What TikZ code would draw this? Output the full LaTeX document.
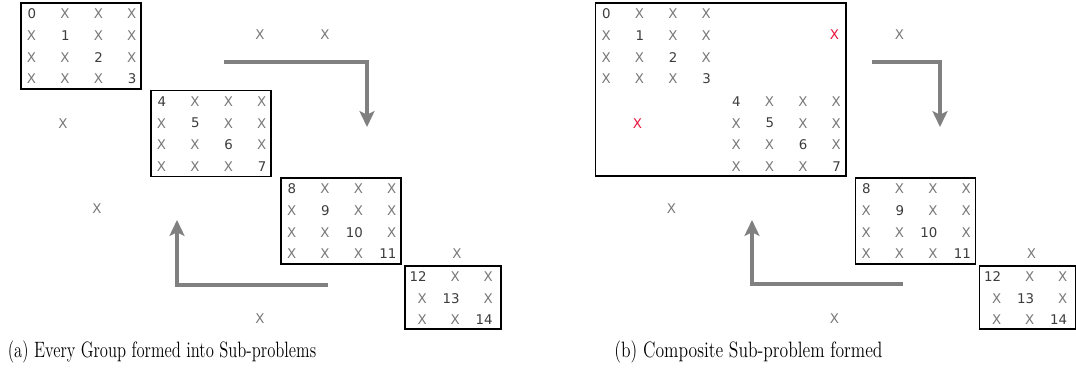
\documentclass[tikz,border=0pt]{standalone}
\usepackage{fontspec}
\usepackage{graphicx}
\usepackage{tikz}
\usetikzlibrary{arrows.meta}
\newfontfamily\gridfont{DejaVu Sans}
\definecolor{xgray}{RGB}{120,120,120}
\definecolor{numgray}{RGB}{60,60,60}
\definecolor{hitred}{RGB}{230,20,60}
\definecolor{arrowgray}{RGB}{128,128,128}
\tikzset{
    cell/.style={anchor=east, inner sep=0pt, text=xgray,
        font={\gridfont\fontsize{7.6pt}{9pt}\selectfont}},
    num/.style={cell, text=numgray},
    stray/.style={cell, anchor=center},
    hit/.style={stray, text=hitred},
    block/.style={draw=black, line width=0.8pt},
    flow/.style={draw=arrowgray, line width=2.3pt,
        -{Stealth[length=9pt,width=8.5pt,inset=2pt]}},
    caption/.style={inner sep=0pt, font={\fontsize{11pt}{13pt}\selectfont}},
}

\begin{document}
\begin{tikzpicture}[x=0.569pt, y=-0.569pt]
    \useasboundingbox (0,0) rectangle (1076,385);

    % (a) every group is its own sub-problem
    \foreach \k/\bx/\by in {0/21/3, 1/151/90.5, 2/281/178} {
        \draw[block] (\bx,\by) rectangle ++(120,86);
        \foreach \r in {0,...,3}
            \foreach \c in {0,...,3} {
                \pgfmathtruncatemacro{\n}{4*\k+\r}
                \ifnum\r=\c
                    \node[num] (a\k-\r-\c) at (\bx+15.5+33.4*\c, \by+11+21.7*\r) {\n};
                \else
                    \node[cell] (a\k-\r-\c) at (\bx+15.5+33.4*\c, \by+11+21.7*\r) {X};
                \fi
            }
    }
    \draw[block] (405,266) rectangle ++(96,63);
    \foreach \r in {0,...,2}
        \foreach \c in {0,...,2} {
            \pgfmathtruncatemacro{\n}{12+\r}
            \ifnum\r=\c
                \node[num] (a3-\r-\c) at (405+22+33*\c, 266+11+21.3*\r) {\n};
            \else
                \node[cell] (a3-\r-\c) at (405+22+33*\c, 266+11+21.3*\r) {X};
            \fi
        }
    \node[stray] (ax1) at (260,35) {X};
    \node[stray] (ax2) at (325,35) {X};
    \node[stray] (ax3) at (63,124) {X};
    \node[stray] (ax4) at (97,209) {X};
    \node[stray] (ax5) at (457,254) {X};
    \node[stray] (ax6) at (260,319) {X};
    \coordinate (a-top-s) at (224,62);
    \coordinate (a-top-e) at (367,127);
    \coordinate (a-bot-s) at (328,285);
    \coordinate (a-bot-e) at (177,220);
    \draw[flow] (a-top-s) -| (a-top-e);
    \draw[flow] (a-bot-s) -| (a-bot-e);
    \node[caption] (cap-a) at (162,352)
        {\scalebox{0.86}[1.15]{(a) Every Group formed into Sub-problems}};

    % (b) first two groups merged
    \draw[block] (595.5,3) rectangle (846,176);
    \foreach \k/\bx/\by in {0/595.5/3, 1/725.5/90.5, 2/855.5/178} {
        \ifnum\k=2
            \draw[block] (\bx,\by) rectangle ++(120,86);
        \fi
        \foreach \r in {0,...,3}
            \foreach \c in {0,...,3} {
                \pgfmathtruncatemacro{\n}{4*\k+\r}
                \ifnum\r=\c
                    \node[num] (b\k-\r-\c) at (\bx+15.5+33.4*\c, \by+11+21.7*\r) {\n};
                \else
                    \node[cell] (b\k-\r-\c) at (\bx+15.5+33.4*\c, \by+11+21.7*\r) {X};
                \fi
            }
    }
    \draw[block] (979.5,266) rectangle ++(96,63);
    \foreach \r in {0,...,2}
        \foreach \c in {0,...,2} {
            \pgfmathtruncatemacro{\n}{12+\r}
            \ifnum\r=\c
                \node[num] (b3-\r-\c) at (979.5+22+33*\c, 266+11+21.3*\r) {\n};
            \else
                \node[cell] (b3-\r-\c) at (979.5+22+33*\c, 266+11+21.3*\r) {X};
            \fi
        }
    \node[hit] (bx1) at (834.5,35) {X};
    \node[stray] (bx2) at (899.5,35) {X};
    \node[hit] (bx3) at (637.5,124) {X};
    \node[stray] (bx4) at (671.5,209) {X};
    \node[stray] (bx5) at (1031.5,254) {X};
    \node[stray] (bx6) at (834.5,319) {X};
    \coordinate (b-top-s) at (872,62);
    \coordinate (b-top-e) at (940,127);
    \coordinate (b-bot-s) at (903,284);
    \coordinate (b-bot-e) at (752,220);
    \draw[flow] (b-top-s) -| (b-top-e);
    \draw[flow] (b-bot-s) -| (b-bot-e);
    \node[caption] (cap-b) at (748.5,352)
        {\scalebox{0.91}[1.15]{(b) Composite Sub-problem formed}};
\end{tikzpicture}
\end{document}
